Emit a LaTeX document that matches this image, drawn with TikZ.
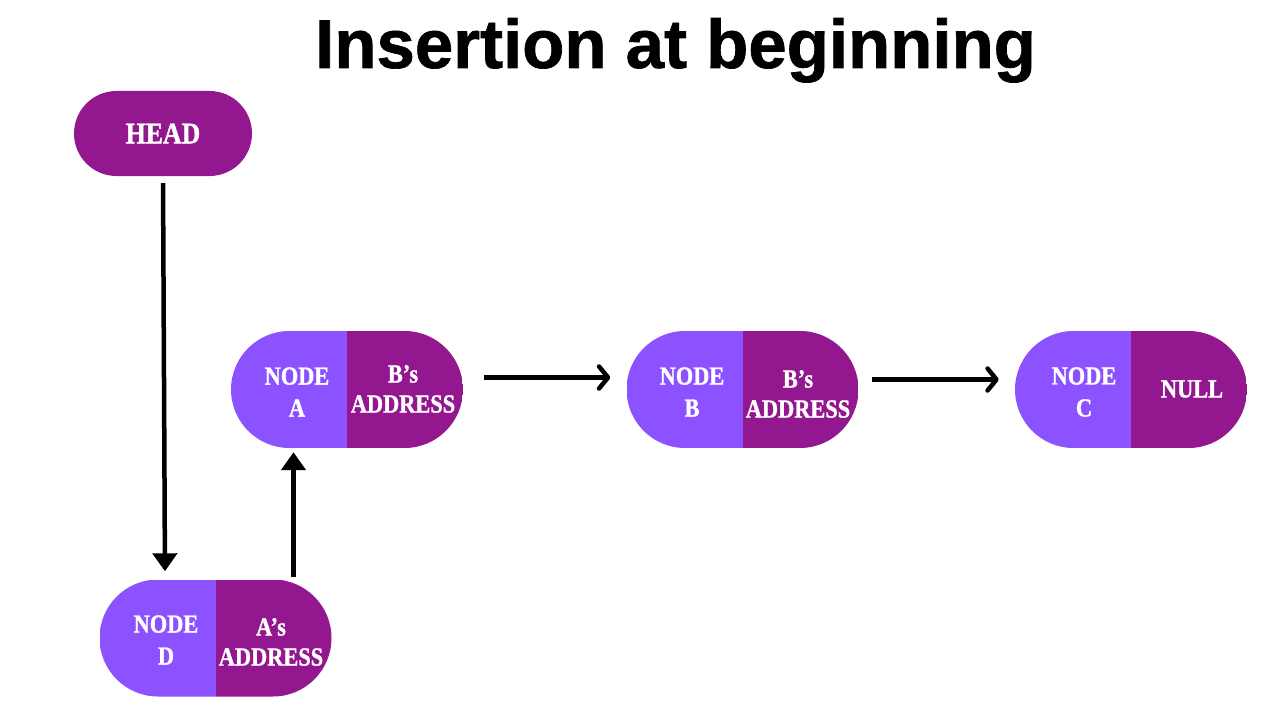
\documentclass[tikz,border=0pt]{standalone}
\usepackage{fontspec}
\newfontfamily\titlefont{Liberation Sans}[FakeBold=1]
\newfontfamily\nodefont{Liberation Serif}[FakeStretch=0.86, FakeBold=1.2]
\usetikzlibrary{arrows.meta,calc,shapes.misc}
\definecolor{nodelight}{HTML}{8C52FF}
\definecolor{nodedark}{HTML}{93178F}
\tikzset{
  pill/.style={rounded rectangle, minimum width=232pt, minimum height=117pt, inner sep=0pt,
    path picture={
      \fill[nodelight] (path picture bounding box.south west) rectangle (path picture bounding box.north);
      \fill[nodedark] (path picture bounding box.south) rectangle (path picture bounding box.north east);}},
  headpill/.style={rounded rectangle, fill=nodedark, minimum width=178pt, minimum height=85pt, inner sep=0pt},
  txt/.style={text=white, font=\nodefont\bfseries\fontsize{26}{32}\selectfont, align=center, inner sep=0pt},
  hlink/.style={line width=4.5pt, -{Straight Barb[length=9pt, width=22pt, line cap=round, line join=round]}},
  vlink/.style={line width=4.5pt, -{Triangle[length=18pt, width=24pt]}}
}
\begin{document}
\begin{tikzpicture}[x=1pt, y=-1pt]
    \useasboundingbox (0,0) rectangle (1275,709);
    % Title
    \node[anchor=base, inner sep=0pt, font=\titlefont\bfseries\fontsize{69}{80}\selectfont] (title) at (675.5,68) {Insertion at beginning};
    % Head
    \node[headpill] (head) at (163,133.5) {};
    \node[txt, font=\nodefont\bfseries\fontsize{30}{34}\selectfont] (head-txt) at (163,133.5) {HEAD};
    % Nodes A, B, C
    \node[pill] (a) at (347,389.5) {};
    \node[txt] (a-data) at (297,392) {NODE\\A};
    \node[txt] (a-next) at (403,389) {B’s\\[-2pt]ADDRESS};
    \node[pill] (b) at (742.5,389.5) {};
    \node[txt] (b-data) at (692,392) {NODE\\B};
    \node[txt] (b-next) at (798,394) {B’s\\[-2pt]ADDRESS};
    \node[pill] (c) at (1131,389.5) {};
    \node[txt] (c-data) at (1084,392) {NODE\\C};
    \node[txt] (c-next) at (1192,389) {NULL};
    % Node D
    \node[pill] (d) at (215.5,638) {};
    \node[txt] (d-data) at (166,640) {NODE\\D};
    \node[txt] (d-next) at (271,642) {A’s\\[-2pt]ADDRESS};
    % Links
    \draw[vlink, shorten <=7pt, shorten >=8pt] (head.south) -- ([xshift=2pt]head.south |- d.north);
    \draw[vlink, shorten <=2pt, shorten >=4pt] ([xshift=78pt]d.north) -- ([xshift=78pt]d.north |- a.south);
    \draw[hlink, shorten <=21pt, shorten >=16pt] ([yshift=12pt]a.east) -- ([yshift=12pt]a.east -| b.west);
    \draw[hlink, shorten <=13pt, shorten >=16pt] ([yshift=10pt]b.east) -- ([yshift=10pt]b.east -| c.west);
\end{tikzpicture}
\end{document}
